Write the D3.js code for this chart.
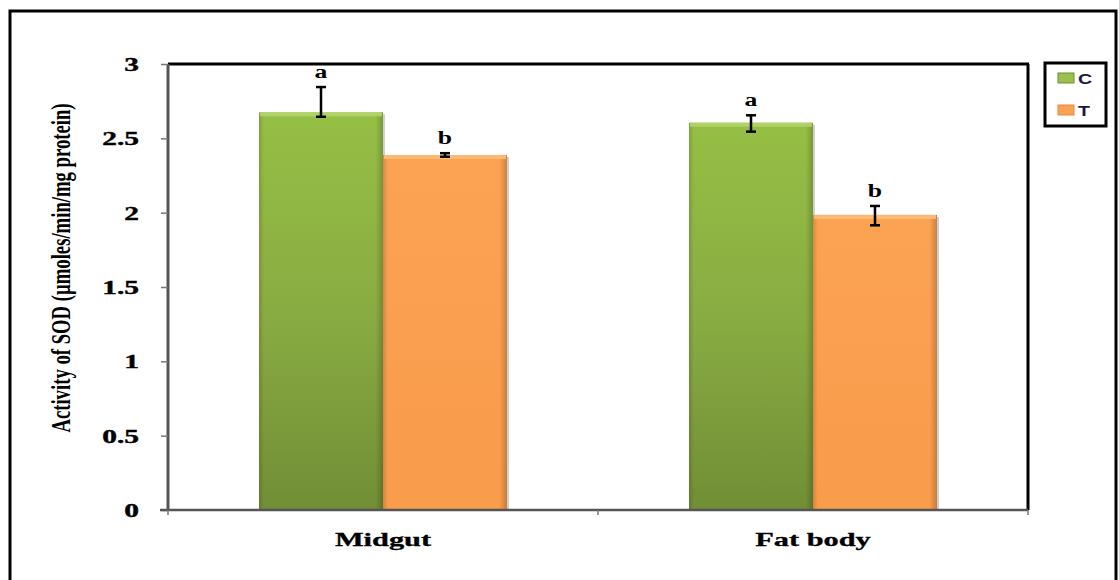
<!DOCTYPE html>
<html><head><meta charset="utf-8">
<script src="https://cdn.jsdelivr.net/npm/d3@7"></script>
<style>body{margin:0;background:#fff}svg{display:block}</style>
</head><body>
<svg id="c" width="1119" height="580"></svg>
<script>
const categories = ["Midgut", "Fat body"];
const seriesNames = ["C", "T"];
const valuesC = [2.675, 2.605];
const valuesT = [2.388, 1.985];
const errUpC = [0.17, 0.05];
const errDownC = [0.03, 0.06];
const errUpT = [0.012, 0.06];
const errDownT = [0.012, 0.07];
const lettersC = ["a", "a"];
const lettersT = ["b", "b"];
const yTicks = [0, 0.5, 1, 1.5, 2, 2.5, 3];
const yLabel = "Activity of SOD (\u00b5moles/min/mg protein)";

const svg = d3.select("#c");
const m = {left:168, right:1028, top:64, bottom:510};

const defs = svg.append("defs");
const gG = defs.append("linearGradient").attr("id","gG").attr("x1",0).attr("y1",0).attr("x2",0).attr("y2",1);
gG.append("stop").attr("offset","0%").attr("stop-color","#96bf45");
gG.append("stop").attr("offset","50%").attr("stop-color","#89ac42");
gG.append("stop").attr("offset","100%").attr("stop-color","#718e36");
const gGh = defs.append("linearGradient").attr("id","gGh").attr("x1",0).attr("y1",0).attr("x2",1).attr("y2",0);
gGh.append("stop").attr("offset","0%").attr("stop-color","#000").attr("stop-opacity",0.15);
gGh.append("stop").attr("offset","4%").attr("stop-color","#000").attr("stop-opacity",0);
gGh.append("stop").attr("offset","94%").attr("stop-color","#000").attr("stop-opacity",0);
gGh.append("stop").attr("offset","100%").attr("stop-color","#000").attr("stop-opacity",0.2);
const gO = defs.append("linearGradient").attr("id","gO").attr("x1",0).attr("y1",0).attr("x2",0).attr("y2",1);
gO.append("stop").attr("offset","0%").attr("stop-color","#fba253");
gO.append("stop").attr("offset","100%").attr("stop-color","#f99c4b");

// outer frame
svg.append("rect").attr("x",10).attr("y",11).attr("width",1106).attr("height",600)
  .attr("fill","none").attr("stroke","#000").attr("stroke-width",3);

const x0 = d3.scaleBand().domain(categories).range([m.left, m.right]);
const x1 = d3.scaleBand().domain(seriesNames).range([0, 248]);
const y = d3.scaleLinear().domain([0,3]).range([m.bottom, m.top]);

svg.append("line").attr("x1",m.left).attr("x2",m.right+1).attr("y1",m.top).attr("y2",m.top).attr("stroke","#000").attr("stroke-width",3);
svg.append("line").attr("x1",m.right).attr("x2",m.right).attr("y1",m.top).attr("y2",m.bottom).attr("stroke","#000").attr("stroke-width",3);

const data = [];
categories.forEach((c,i)=>{
  data.push({cat:c, s:"C", v:valuesC[i], up:errUpC[i], dn:errDownC[i], L:lettersC[i]});
  data.push({cat:c, s:"T", v:valuesT[i], up:errUpT[i], dn:errDownT[i], L:lettersT[i]});
});
const bx = d => x0(d.cat) + (x0.bandwidth()-248)/2 + x1(d.s);

const bars = svg.append("g");
data.forEach(d=>{
  const X = bx(d), w = x1.bandwidth(), Y = y(d.v), h = y(0)-y(d.v);
  bars.append("rect").attr("x",X).attr("y",Y).attr("width",w).attr("height",h)
    .attr("fill", d.s==="C" ? "url(#gG)" : "url(#gO)");
  bars.append("rect").attr("x",X).attr("y",Y).attr("width",w).attr("height",h).attr("fill","url(#gGh)");
  bars.append("rect").attr("x",X+1).attr("y",Y).attr("width",w-2).attr("height",4)
    .attr("fill", d.s==="C" ? "#b3d46a" : "#fdbb7a").attr("opacity",0.9);
  bars.append("line").attr("x1",X+w+1).attr("x2",X+w+1).attr("y1",Y+2).attr("y2",y(0))
    .attr("stroke","#999").attr("stroke-width",1.5).attr("opacity",0.6);
});

const eg = svg.append("g").attr("stroke","#000").attr("stroke-width",2.5);
data.forEach(d=>{
  const cx = bx(d) + x1.bandwidth()/2;
  const yt = y(d.v + d.up), yb = y(d.v - d.dn);
  eg.append("line").attr("x1",cx).attr("x2",cx).attr("y1",yt).attr("y2",yb);
  eg.append("line").attr("x1",cx-5).attr("x2",cx+5).attr("y1",yt).attr("y2",yt);
  eg.append("line").attr("x1",cx-5).attr("x2",cx+5).attr("y1",yb).attr("y2",yb);
});
data.forEach(d=>{
  const cx = bx(d) + x1.bandwidth()/2;
  svg.append("text").attr("transform",`translate(${cx},${y(d.v+d.up)-9}) scale(1.35,1)`)
    .attr("text-anchor","middle").attr("font-family","Liberation Serif").attr("font-weight","bold")
    .attr("font-size",19).text(d.L);
});

// y axis
const ya = svg.append("g").attr("transform",`translate(${m.left},0)`)
  .call(d3.axisLeft(y).tickValues(yTicks).tickFormat(d=>String(d)).tickSize(7).tickPadding(0));
ya.select(".domain").attr("stroke","#555").attr("stroke-width",3).attr("d",`M0,${m.top}V${m.bottom}`);
ya.selectAll(".tick line").attr("stroke","#777").attr("stroke-width",1.5);
ya.selectAll(".tick text").each(function(){
  d3.select(this).attr("x",null).attr("dy",null).attr("text-anchor","end")
   .attr("transform",`translate(-29,6.5) scale(1.55,1)`)
   .attr("font-family","Liberation Serif").attr("font-weight","bold").attr("font-size",19)
   .attr("fill","#000").attr("stroke","#000").attr("stroke-width",0.4);
});

// x axis
const xa = svg.append("g").attr("transform",`translate(0,${m.bottom})`)
  .call(d3.axisBottom(x0).tickSize(0).tickPadding(0));
xa.select(".domain").attr("stroke","#555").attr("stroke-width",2.5).attr("d",`M${m.left-8},0H${m.right}`);
[m.left, m.left+x0.bandwidth(), m.right].forEach(xx=>{
  xa.append("line").attr("x1",xx).attr("x2",xx).attr("y1",0).attr("y2",5).attr("stroke","#777").attr("stroke-width",1.5);
});
xa.selectAll(".tick text").each(function(){
  d3.select(this).attr("y",null).attr("dy",null).attr("text-anchor","middle")
   .attr("transform",`translate(0,36) scale(1.6,1)`)
   .attr("font-family","Liberation Serif").attr("font-weight","bold").attr("font-size",19)
   .attr("fill","#000").attr("stroke","#000").attr("stroke-width",0.3);
});

// y label
svg.append("text").attr("transform",`translate(70,268) scale(1.5,1) rotate(-90)`)
  .attr("text-anchor","middle").attr("font-family","Liberation Serif").attr("font-weight","bold")
  .attr("font-size",18.7).text(yLabel);

// legend
const lg = svg.append("g");
lg.append("rect").attr("x",1045).attr("y",63).attr("width",61).attr("height",63)
  .attr("fill","#fff").attr("stroke","#000").attr("stroke-width",3);
const lcol = {C:["#9bc14d","#6f8c35"], T:["#fba253","#e58a3e"]};
seriesNames.forEach((s,i)=>{
  const yy = 73 + i*32;
  lg.append("rect").attr("x",1058).attr("y",yy).attr("width",16).attr("height",10).attr("fill",lcol[s][0]).attr("stroke",lcol[s][1]).attr("stroke-width",1);
  lg.append("text").attr("transform",`translate(1078,${yy+11}) scale(1.4,1)`)
    .attr("font-family","Liberation Sans").attr("font-weight","bold").attr("font-size",14).attr("fill","#1a1a40").text(s);
});
</script>
</body></html>
